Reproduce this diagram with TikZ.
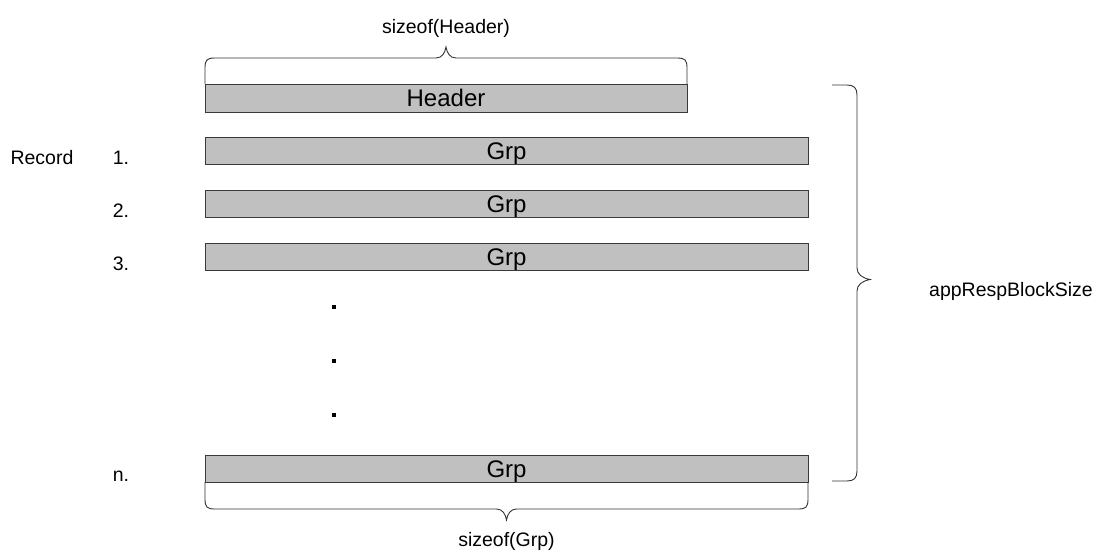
\documentclass[tikz,border=0pt]{standalone}
\usepackage{fontspec}
\setmainfont{Liberation Sans}
\definecolor{boxfill}{HTML}{C0C0C0}
\definecolor{boxline}{HTML}{3A3A3A}
\definecolor{braceline}{HTML}{333333}
\begin{document}
\begin{tikzpicture}[x=1pt,y=-1pt,
  fieldbox/.style={draw=boxline, fill=boxfill, line width=1pt, inner sep=0pt,
    minimum height=27pt, text height=17.2pt, text depth=0pt,
    font=\fontsize{24}{28}\selectfont},
  lbl/.style={anchor=base, inner sep=0pt, font=\fontsize{19.5}{23}\selectfont},
  bracepath/.style={draw=braceline, line width=0.9pt},
  dotmark/.style={fill=black}]
\useasboundingbox (0,0) rectangle (1100,552);
\fill[white] (0,0) rectangle (1100,552);

% boxes
\node[fieldbox, minimum width=482pt, minimum height=28pt] (hdr) at (446,98) {Header};
\node[fieldbox, minimum width=603pt] (g1) at (506.5,150.5) {Grp};
\node[fieldbox, minimum width=603pt] (g2) at (506.5,203.5) {Grp};
\node[fieldbox, minimum width=603pt] (g3) at (506.5,256.5) {Grp};
\node[fieldbox, minimum width=603pt] (gn) at (506.5,468.5) {Grp};

% labels
\node[lbl] (rec) at (42,164) {Record};
\node[lbl] (n1) at (121,164) {1.};
\node[lbl] (n2) at (121,217) {2.};
\node[lbl] (n3) at (121,270) {3.};
\node[lbl] (nn) at (121,481) {n.};
\node[lbl] (szh) at (446,33) {sizeof(Header)};
\node[lbl] (szg) at (506.5,546) {sizeof(Grp)};
\node[lbl] (blk) at (1011,296) {appRespBlockSize};

% dots
\fill[dotmark] (332,305) rectangle (336,309);
\fill[dotmark] (332,359) rectangle (336,363);
\fill[dotmark] (332,413) rectangle (336,417);

% header brace
\draw[bracepath] (205,84) -- (205,68) .. controls (205,60) and (207,58) .. (215,58)
  -- (436,58) .. controls (442,58) and (445,53) .. (446,47)
  .. controls (447,53) and (450,58) .. (456,58) -- (677,58)
  .. controls (685,58) and (687,60) .. (687,68) -- (687,84);

% right brace
\draw[bracepath] (832,85) -- (847,85) .. controls (854,85) and (857,88) .. (857,95)
  -- (857,268) .. controls (857,274) and (862,278) .. (870,279.5)
  .. controls (862,281) and (857,285) .. (857,291) -- (857,471)
  .. controls (857,478) and (854,481) .. (847,481) -- (832,481);

% bottom brace
\draw[bracepath] (205,482) -- (205,499) .. controls (205,507) and (207,509) .. (215,509)
  -- (496.5,509) .. controls (502.5,509) and (505.5,514) .. (506.5,520)
  .. controls (507.5,514) and (510.5,509) .. (516.5,509) -- (798,509)
  .. controls (806,509) and (808,507) .. (808,499) -- (808,482);
\end{tikzpicture}
\end{document}
